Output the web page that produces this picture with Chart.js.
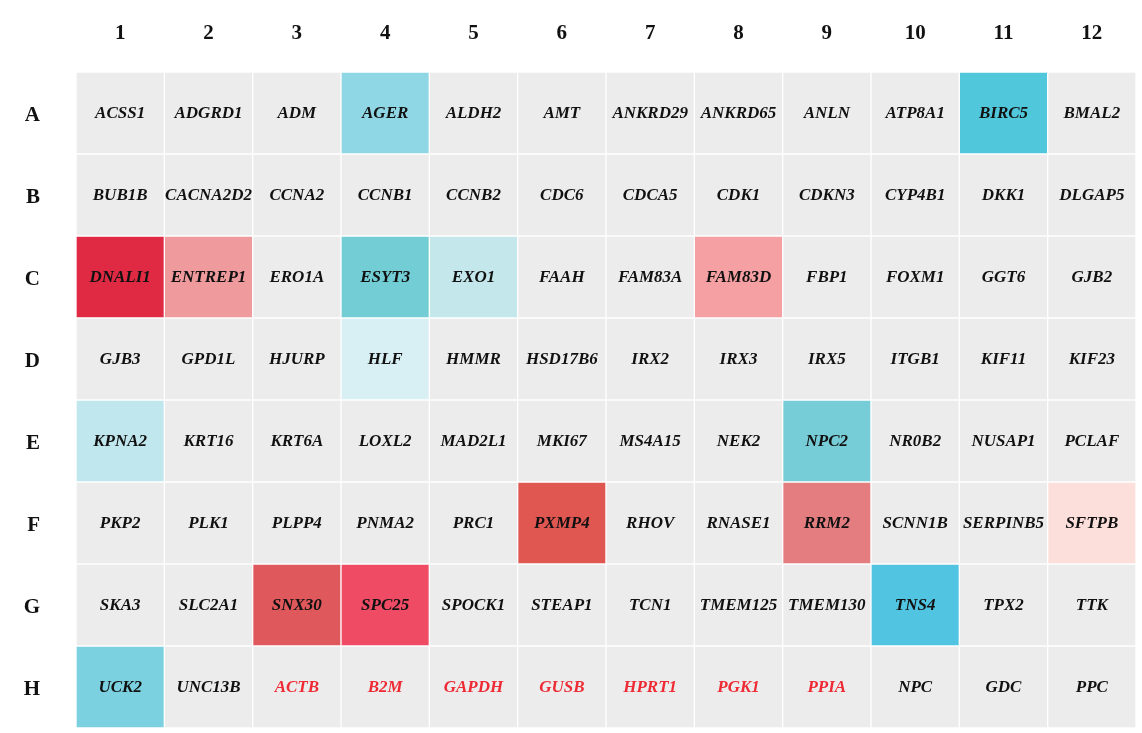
<!DOCTYPE html>
<html>
<head>
<meta charset="utf-8">
<script src="https://cdn.jsdelivr.net/npm/chart.js@4.4.1/dist/chart.umd.min.js"></script>
<style>
  html, body { margin: 0; padding: 0; background: #fff; overflow: hidden; }
  canvas { display: block; }
</style>
</head>
<body>
<canvas id="plate" width="1142" height="733"></canvas>
<script>
var columns = ['1','2','3','4','5','6','7','8','9','10','11','12'];
var rows = ['A','B','C','D','E','F','G','H'];

var rowA = ['ACSS1','ADGRD1','ADM','AGER','ALDH2','AMT','ANKRD29','ANKRD65','ANLN','ATP8A1','BIRC5','BMAL2'];
var rowB = ['BUB1B','CACNA2D2','CCNA2','CCNB1','CCNB2','CDC6','CDCA5','CDK1','CDKN3','CYP4B1','DKK1','DLGAP5'];
var rowC = ['DNALI1','ENTREP1','ERO1A','ESYT3','EXO1','FAAH','FAM83A','FAM83D','FBP1','FOXM1','GGT6','GJB2'];
var rowD = ['GJB3','GPD1L','HJURP','HLF','HMMR','HSD17B6','IRX2','IRX3','IRX5','ITGB1','KIF11','KIF23'];
var rowE = ['KPNA2','KRT16','KRT6A','LOXL2','MAD2L1','MKI67','MS4A15','NEK2','NPC2','NR0B2','NUSAP1','PCLAF'];
var rowF = ['PKP2','PLK1','PLPP4','PNMA2','PRC1','PXMP4','RHOV','RNASE1','RRM2','SCNN1B','SERPINB5','SFTPB'];
var rowG = ['SKA3','SLC2A1','SNX30','SPC25','SPOCK1','STEAP1','TCN1','TMEM125','TMEM130','TNS4','TPX2','TTK'];
var rowH = ['UCK2','UNC13B','ACTB','B2M','GAPDH','GUSB','HPRT1','PGK1','PPIA','NPC','GDC','PPC'];
var genes = [rowA, rowB, rowC, rowD, rowE, rowF, rowG, rowH];

// reference genes written in red
var referenceGenes = ['ACTB','B2M','GAPDH','GUSB','HPRT1','PGK1','PPIA'];

// cell shading (red = up, blue = down)
var cellColor = {
  AGER: '#90d7e5', BIRC5: '#50c7da',
  DNALI1: '#e02a44', ENTREP1: '#ef9a9d', ESYT3: '#72cdd4', EXO1: '#c4e7eb', FAM83D: '#f5a0a3',
  HLF: '#d8eff3',
  KPNA2: '#c0e6ee', NPC2: '#76cdd7',
  PXMP4: '#e05751', RRM2: '#e47d80', SFTPB: '#fcdeda',
  SNX30: '#df585b', SPC25: '#ef4b65', TNS4: '#50c4e0',
  UCK2: '#7cd1e0'
};
var emptyColor = '#ececec';

var datasets = genes.map(function (row, r) {
  return {
    label: rows[r],
    data: row.map(function () { return [r + 0.5, r + 1.5]; }),
    backgroundColor: row.map(function (g) { return cellColor[g] || emptyColor; }),
    borderColor: '#ffffff',
    borderWidth: 1,
    borderSkipped: false,
    grouped: false,
    barPercentage: 1,
    categoryPercentage: 1
  };
});

var cellText = {
  id: 'cellText',
  afterDatasetsDraw: function (chart) {
    var ctx = chart.ctx;
    ctx.save();
    ctx.font = 'italic bold 17px "Liberation Serif", "Times New Roman", serif';
    ctx.textAlign = 'center';
    ctx.textBaseline = 'middle';
    chart.data.datasets.forEach(function (ds, r) {
      chart.getDatasetMeta(r).data.forEach(function (bar, c) {
        var g = genes[r][c];
        ctx.fillStyle = referenceGenes.indexOf(g) >= 0 ? '#ee2b35' : '#111111';
        ctx.fillText(g, bar.x, (bar.y + bar.base) / 2 + 1);
      });
    });
    ctx.restore();
  }
};

var axisFont = { family: '"Liberation Serif", "Times New Roman", serif', size: 21, weight: 'bold' };

new Chart(document.getElementById('plate'), {
  type: 'bar',
  data: { labels: columns, datasets: datasets },
  options: {
    responsive: false,
    animation: false,
    layout: { padding: { right: 6, bottom: 5 } },
    plugins: { legend: { display: false }, tooltip: { enabled: false } },
    scales: {
      x: {
        position: 'top',
        grid: { display: false, drawTicks: false },
        border: { display: false },
        ticks: { color: '#111', font: axisFont, padding: 26 },
        afterFit: function (scale) { scale.height = 72; }
      },
      y: {
        type: 'linear',
        reverse: true,
        min: 0.5,
        max: 8.5,
        grid: { display: false, drawTicks: false },
        border: { display: false },
        afterBuildTicks: function (scale) {
          scale.ticks = rows.map(function (r, i) { return { value: i + 1 }; });
        },
        ticks: {
          color: '#111',
          font: axisFont,
          padding: 36,
          labelOffset: 3,
          callback: function (v) { return rows[v - 1]; }
        },
        afterFit: function (scale) {
          scale.width = 76;
          scale.paddingTop = 0;
          scale.paddingBottom = 0;
        }
      }
    }
  },
  plugins: [cellText]
});
</script>
</body>
</html>
